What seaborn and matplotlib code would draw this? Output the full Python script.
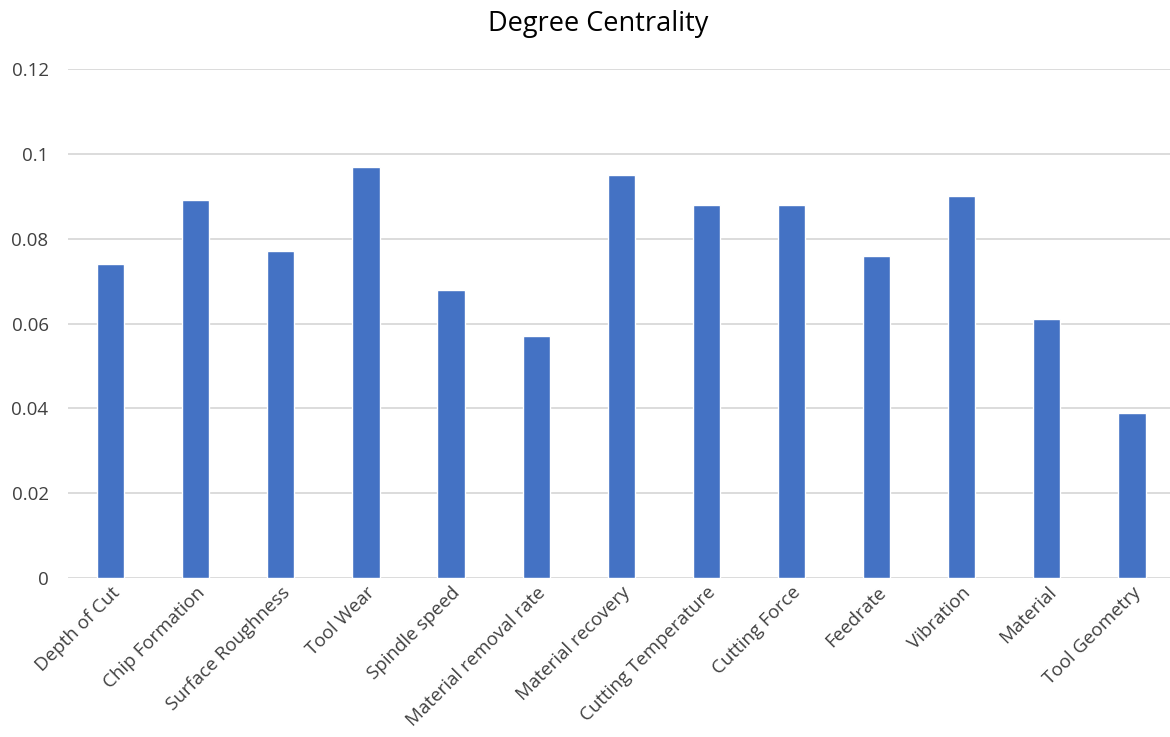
import matplotlib
matplotlib.use("Agg")
import matplotlib.pyplot as plt
import seaborn as sns
import pandas as pd

categories = ["Depth of Cut", "Chip Formation", "Surface Roughness", "Tool Wear",
              "Spindle speed", "Material removal rate", "Material recovery",
              "Cutting Temperature", "Cutting Force", "Feedrate", "Vibration",
              "Material", "Tool Geometry"]
centrality = [0.074, 0.089, 0.077, 0.097, 0.068, 0.057, 0.095,
              0.088, 0.088, 0.076, 0.090, 0.061, 0.039]
yticks = [0, 0.02, 0.04, 0.06, 0.08, 0.1, 0.12]
ytick_labels = ["0", "0.02", "0.04", "0.06", "0.08", "0.1", "0.12"]

sns.set_theme(style="white")
plt.rcParams["font.family"] = ["Open Sans", "DejaVu Sans"]

df = pd.DataFrame({"factor": categories, "value": centrality})

fig = plt.figure(figsize=(11.7, 7.37), dpi=100)
ax = fig.add_axes([0.0581, 0.2157, 0.9458, 0.6907])

sns.barplot(data=df, x="factor", y="value", color="#4472C4", saturation=1,
            width=0.32, ax=ax, zorder=3)

ax.set_xlim(-0.5, len(categories) - 0.5)
ax.set_ylim(0, 0.12)
ax.set_yticks(yticks)
ax.set_yticklabels(ytick_labels, fontsize=13.5, color="#404040")
ax.yaxis.grid(True, color="#D9D9D9", linewidth=1.3, zorder=0)
ax.set_axisbelow(True)
for s in ax.spines.values():
    s.set_visible(False)
ax.tick_params(axis="both", length=0)
ax.tick_params(axis="y", pad=14)
ax.set_xlabel("")
ax.set_ylabel("")
ax.set_xticks(range(len(categories)))
ax.set_xticklabels(categories, rotation=45, ha="right", rotation_mode="anchor",
                   fontsize=13.5, color="#404040")
ax.tick_params(axis="x", pad=4)

fig.text(0.511, 0.968, "Degree Centrality", ha="center", va="center",
         fontsize=19.5, color="#000000")

fig.savefig("out.png", dpi=100, facecolor="white")
